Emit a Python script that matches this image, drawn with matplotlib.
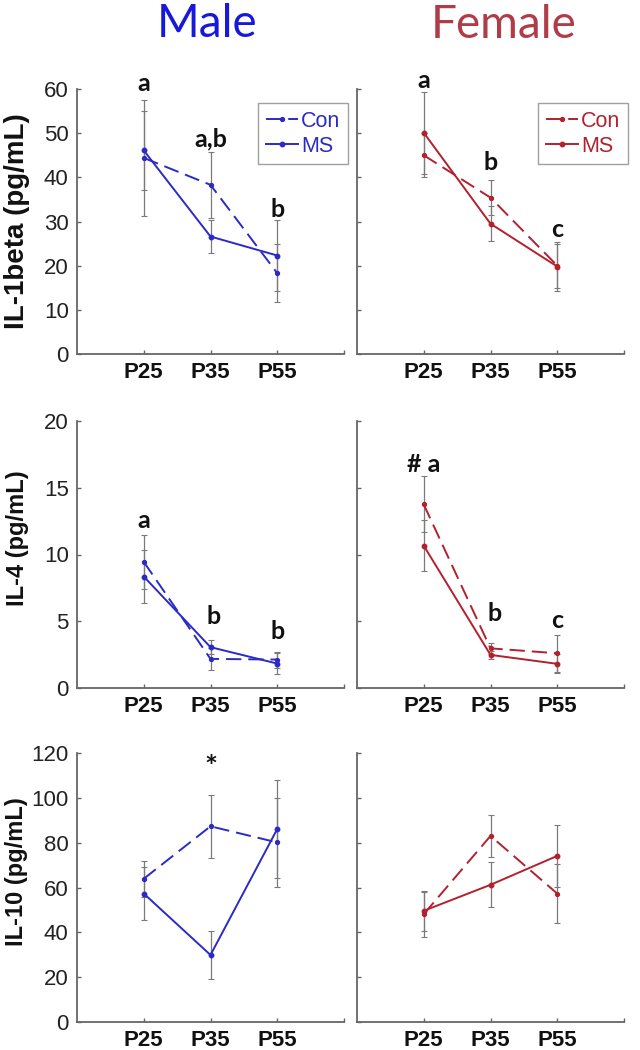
import matplotlib
matplotlib.use("Agg")
import matplotlib.pyplot as plt

# ---------------- data ----------------
ages = ["P25", "P35", "P55"]
xpos = [1, 2, 3]
series_names = ["Con", "MS"]

male_il1b_con = [44.4, 38.3, 18.3]
male_il1b_con_err = [13.2, 7.5, 6.5]
male_il1b_ms = [46.1, 26.6, 22.3]
male_il1b_ms_err = [9.0, 3.7, 8.0]

female_il1b_con = [45.0, 35.4, 20.0]
female_il1b_con_err = [5.0, 4.0, 5.0]
female_il1b_ms = [50.1, 29.5, 19.8]
female_il1b_ms_err = [9.3, 4.0, 5.5]

male_il4_con = [9.45, 2.18, 2.13]
male_il4_con_err = [2.0, 0.8, 0.6]
male_il4_ms = [8.35, 3.06, 1.83]
male_il4_ms_err = [2.0, 0.5, 0.8]

female_il4_con = [13.75, 2.97, 2.6]
female_il4_con_err = [2.1, 0.4, 1.4]
female_il4_ms = [10.66, 2.48, 1.81]
female_il4_ms_err = [1.9, 0.3, 0.7]

male_il10_con = [63.9, 87.3, 80.1]
male_il10_con_err = [8.0, 14.0, 20.0]
male_il10_ms = [57.3, 29.9, 86.1]
male_il10_ms_err = [12.0, 10.5, 21.7]

female_il10_con = [48.1, 83.0, 57.3]
female_il10_con_err = [10.0, 9.5, 13.0]
female_il10_ms = [49.6, 61.2, 74.1]
female_il10_ms_err = [9.0, 10.0, 14.0]

ylabels = ["IL-1beta (pg/mL)", "IL-4 (pg/mL)", "IL-10 (pg/mL)"]
ylims = [60, 20, 120]
ystep = [10, 5, 20]

# annotations: (row, col, x, y, text)
annotations = [
    (0, 0, 1, 59.5, "a"), (0, 0, 2, 47.0, "a,b"), (0, 0, 3, 31.0, "b"),
    (0, 1, 1, 60.3, "a"), (0, 1, 2, 41.7, "b"), (0, 1, 3, 26.6, "c"),
    (1, 0, 1, 12.0, "a"), (1, 0, 2.05, 4.8, "b"), (1, 0, 3, 3.65, "b"),
    (1, 1, 1, 16.2, "# a"), (1, 1, 2.06, 5.0, "b"), (1, 1, 3, 4.5, "c"),
]
star_annotation = (2, 0, 2, 113.5, "*")

# ---------------- style ----------------
male_color = "#2b2bc4"
female_color = "#b3202e"
male_title_color = "#1818dc"
female_title_color = "#b03c4a"
err_color = "#7a7a7a"
spine_color = "#666666"
tick_font = "Liberation Sans"
note_font = "Lato"

plt.rcParams["lines.scale_dashes"] = False

fig = plt.figure(figsize=(6.4, 10.5), dpi=100)
W, H = 640.0, 1050.0

col_x = [77, 357]
ax_w = 267
rows_y = [(89, 354), (421, 688), (753, 1022)]

data = [
    [(male_il1b_con, male_il1b_con_err, male_il1b_ms, male_il1b_ms_err),
     (female_il1b_con, female_il1b_con_err, female_il1b_ms, female_il1b_ms_err)],
    [(male_il4_con, male_il4_con_err, male_il4_ms, male_il4_ms_err),
     (female_il4_con, female_il4_con_err, female_il4_ms, female_il4_ms_err)],
    [(male_il10_con, male_il10_con_err, male_il10_ms, male_il10_ms_err),
     (female_il10_con, female_il10_con_err, female_il10_ms, female_il10_ms_err)],
]

ylabel_sizes = [20, 17, 17]
ylabel_coords = [(-0.175, 0.5), (-0.18, 0.56), (-0.185, 0.56)]

axes = {}
for r in range(3):
    top, bot = rows_y[r]
    for c in range(2):
        ax = fig.add_axes([col_x[c] / W, 1 - bot / H, ax_w / W, (bot - top) / H])
        axes[(r, c)] = ax
        color = male_color if c == 0 else female_color
        con, con_err, ms, ms_err = data[r][c]

        ax.errorbar(xpos, con, yerr=con_err, fmt="none", ecolor=err_color,
                    elinewidth=0.9, capsize=2, capthick=0.8, zorder=2)
        ax.errorbar(xpos, ms, yerr=ms_err, fmt="none", ecolor=err_color,
                    elinewidth=0.9, capsize=2, capthick=0.8, zorder=2)
        ax.plot(xpos, con, color=color, lw=1.4, dashes=(11, 5), marker="o",
                markersize=2.8, label=series_names[0], zorder=3)
        ax.plot(xpos, ms, color=color, lw=1.4, marker="o", markersize=3.2,
                label=series_names[1], zorder=3)

        ax.set_xlim(0, 4)
        ax.set_ylim(0, ylims[r])
        ax.set_yticks(range(0, ylims[r] + 1, ystep[r]))
        ax.set_xticks(xpos)
        ax.set_xticks([4], minor=True)
        ax.set_xticklabels(ages, fontfamily=tick_font, fontweight="bold",
                           fontsize=16, color="#111111")
        if c == 0:
            ax.set_yticklabels([str(v) for v in range(0, ylims[r] + 1, ystep[r])],
                               fontfamily=tick_font, fontsize=16, color="#222222")
            ax.set_ylabel(ylabels[r], fontfamily=tick_font, fontweight="bold",
                          fontsize=ylabel_sizes[r], color="#111111")
            ax.yaxis.set_label_coords(*ylabel_coords[r])
        else:
            ax.set_yticklabels([])
        for s in ["top", "right"]:
            ax.spines[s].set_visible(False)
        for s in ["left", "bottom"]:
            ax.spines[s].set_color(spine_color)
            ax.spines[s].set_linewidth(1.3)
        ax.tick_params(axis="both", which="both", direction="in", length=3,
                       width=1, color=spine_color, pad=6)
        ax.patch.set_alpha(0)

        if r == 0:
            leg = ax.legend(loc="upper left", bbox_to_anchor=(0.678, 0.947),
                            borderaxespad=0, frameon=True, fancybox=False,
                            prop={"family": tick_font, "size": 15.5},
                            labelcolor="linecolor", handlelength=1.5,
                            handletextpad=0.15, labelspacing=0.2,
                            borderpad=0.35, edgecolor="#888888")
            leg.get_frame().set_linewidth(1.0)

for (r, c, x, y, t) in annotations:
    axes[(r, c)].text(x, y, t, ha="center", va="baseline", fontfamily=note_font,
                      fontweight="bold", fontsize=18, color="#111111", zorder=5)
r, c, x, y, t = star_annotation
axes[(r, c)].text(x, y, t, ha="center", va="center", fontfamily=note_font,
                  fontweight="bold", fontsize=22, color="#111111", zorder=5)

fig.text(207 / W, 1 - 37 / H, "Male", ha="center", va="baseline",
         fontfamily=note_font, fontsize=33, color=male_title_color)
fig.text(504 / W, 1 - 38 / H, "Female", ha="center", va="baseline",
         fontfamily=note_font, fontsize=33, color=female_title_color)

fig.savefig("out.png", dpi=100, facecolor="white")
